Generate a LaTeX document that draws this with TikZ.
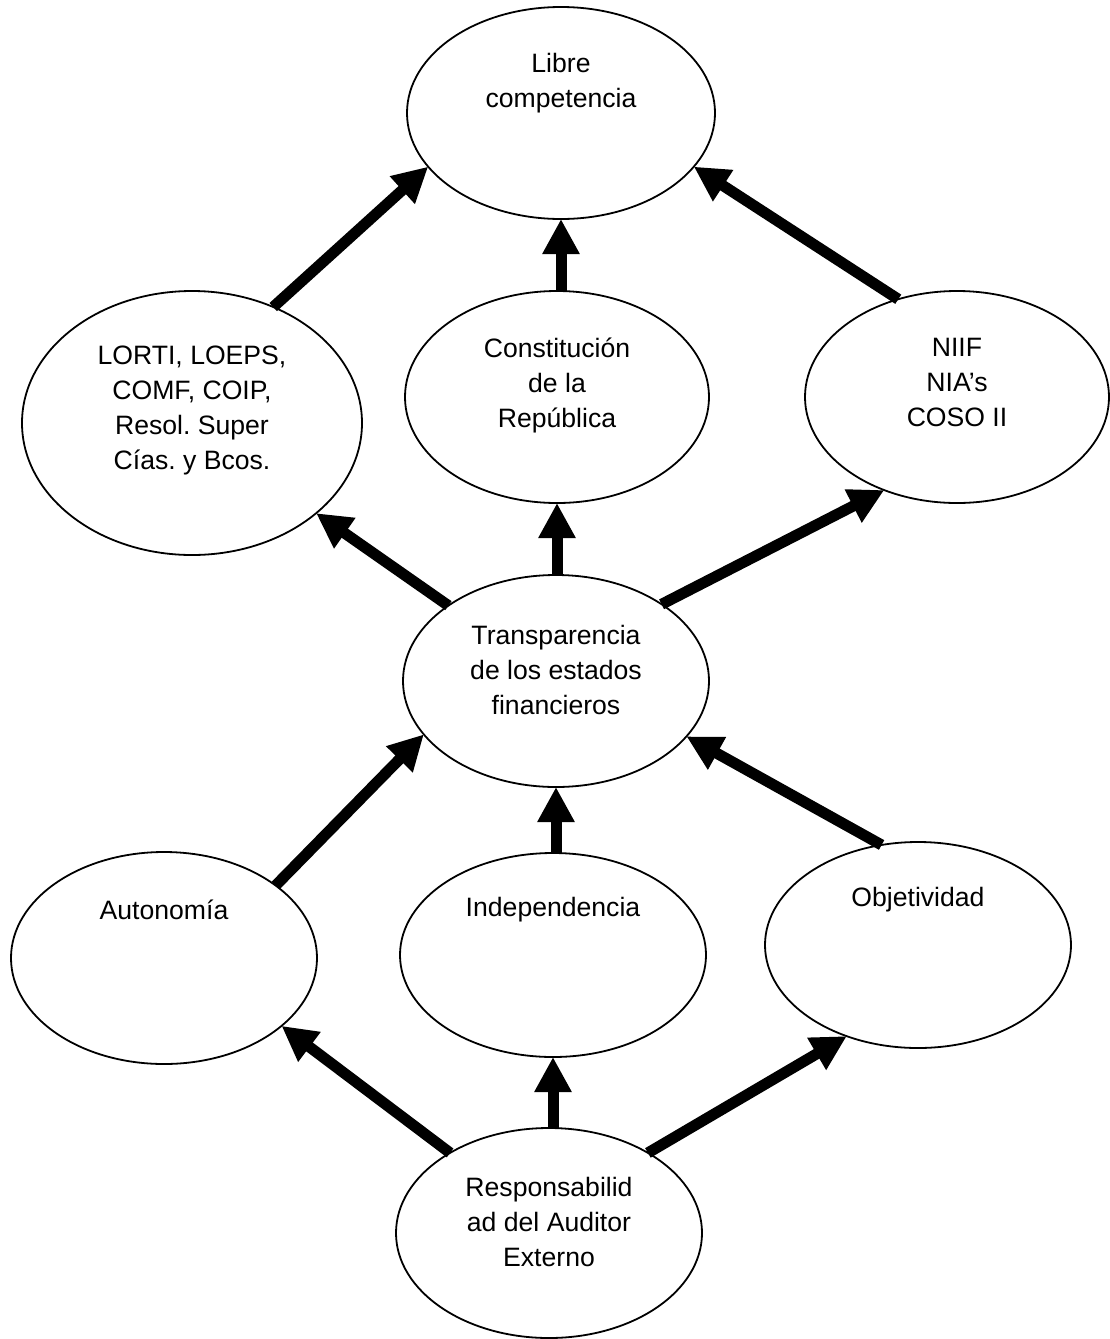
\documentclass[tikz,border=0pt]{standalone}
\usepackage{fontspec}
\setmainfont{Liberation Sans}
\frenchspacing
\usetikzlibrary{shapes.geometric,arrows.meta}
\tikzset{every picture/.style={line width=1.8pt}}
\tikzset{
	burbuja/.style={draw,ellipse,inner sep=0pt,outer sep=0pt},
	texto/.style={align=center,inner sep=0pt,font=\fontsize{26.6}{35}\selectfont},
	flecha/.style={line width=11pt,-{Triangle[length=35pt,width=35pt]}}
}

\begin{document}
\begin{tikzpicture}[x=1pt,y=-1pt]
				\useasboundingbox (0,0) rectangle (1110,1339);
				% elipses
				\node[burbuja,minimum width=308pt,minimum height=212pt] (libre) at (561,113) {};
				\node[burbuja,minimum width=340pt,minimum height=264pt] (lorti) at (192,423) {};
				\node[burbuja,minimum width=304pt,minimum height=212pt] (const) at (557,397) {};
				\node[burbuja,minimum width=304pt,minimum height=212pt] (niif) at (957,397) {};
				\node[burbuja,minimum width=306pt,minimum height=212pt] (trans) at (556,681) {};
				\node[burbuja,minimum width=306pt,minimum height=212pt] (auto) at (164,958) {};
				\node[burbuja,minimum width=306pt,minimum height=204pt] (indep) at (553,955) {};
				\node[burbuja,minimum width=306pt,minimum height=206pt] (objet) at (918,945) {};
				\node[burbuja,minimum width=306pt,minimum height=210pt] (resp) at (549,1233) {};
				% textos
				\node[texto] (t-libre) at (561,83) {Libre\\competencia};
				\node[texto] (t-lorti) at (192,410) {LORTI, LOEPS,\\COMF, COIP,\\Resol. Super\\Cías. y Bcos.};
				\node[texto] (t-const) at (557,385) {Constitución\\de la\\República};
				\node[texto] (t-niif) at (957,382) {NIIF\\NIA’s\\COSO II};
				\node[texto] (t-trans) at (556,670) {Transparencia\\de los estados\\financieros};
				\node[texto] (t-auto) at (164,910) {Autonomía};
				\node[texto] (t-indep) at (553,910) {Independencia};
				\node[texto] (t-objet) at (918,900) {Objetividad};
				\node[texto] (t-resp) at (549,1222) {Responsabilid\\ad del Auditor\\Externo};
				% flechas
				\draw[flecha] (lorti.55)--(libre.202);
				\draw[flecha] (const.north -| libre.south)--(libre.south);
				\draw[flecha] (niif.121)--(libre.338);
				\draw[flecha] (trans.145)--(lorti.324);
				\draw[flecha] (trans.north -| const.south)--(const.south);
				\draw[flecha] (trans.36)--(niif.232);
				\draw[flecha] (auto.33)--(trans.202);
				\draw[flecha] (indep.north -| trans.south)--(trans.south);
				\draw[flecha] (objet.110)--(trans.337);
				\draw[flecha] (resp.141)--(auto.330);
				\draw[flecha] (resp.north -| indep.south)--(indep.south);
				\draw[flecha] (resp.39)--(objet.232);
			\end{tikzpicture}
\end{document}
